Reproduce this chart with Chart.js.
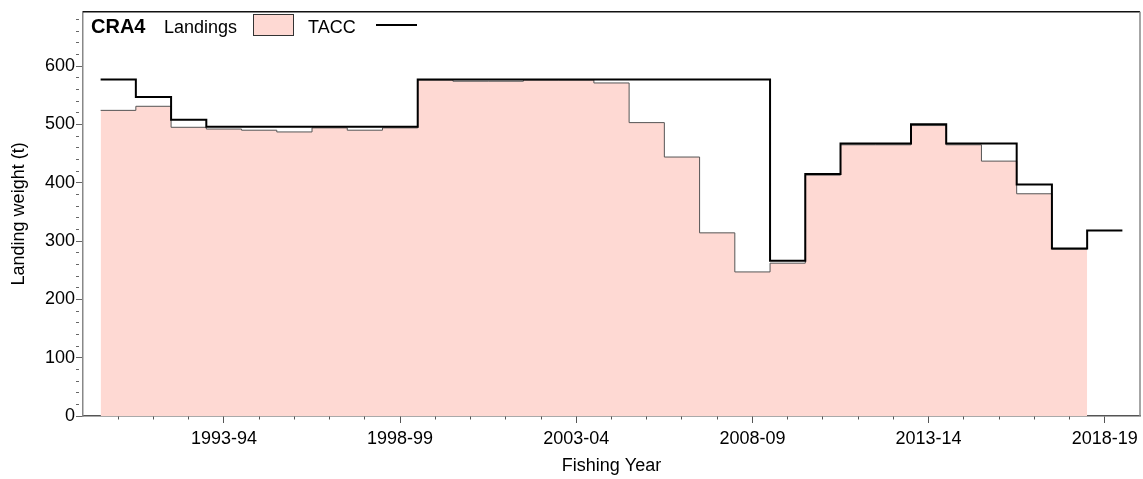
<!DOCTYPE html>
<html>
<head>
<meta charset="utf-8">
<script src="https://cdn.jsdelivr.net/npm/chart.js@4.4.1/dist/chart.umd.min.js"></script>
<style>
html, body { margin: 0; padding: 0; background: #fff; }
#wrap { width: 1143px; height: 479px; }
</style>
</head>
<body>
<div id="wrap"><canvas id="chart" width="1143" height="479"></canvas></div>
<script>
// fishing years, by the calendar year they start in (1990 = 1990-91)
var years = [1990, 1991, 1992, 1993, 1994, 1995, 1996, 1997, 1998, 1999,
             2000, 2001, 2002, 2003, 2004, 2005, 2006, 2007, 2008, 2009,
             2010, 2011, 2012, 2013, 2014, 2015, 2016, 2017, 2018];

var landings = [524, 531, 495, 492, 490, 487, 494, 490, 494, 576,
                574, 574, 576, 576, 571, 503, 444, 314, 247, 262,
                413, 465, 465, 498, 465, 437, 381, 286];

var tacc = [577, 547, 508, 496, 496, 496, 496, 496, 496, 577,
            577, 577, 577, 577, 577, 577, 577, 577, 577, 266,
            415, 467, 467, 500, 467, 467, 397, 287, 318];

var majorLabels = ["1993-94", "1998-99", "2003-04", "2008-09", "2013-14", "2018-19"];
var yLabels = [0, 100, 200, 300, 400, 500, 600];

var fontName = "'Liberation Sans', Arial, sans-serif";

function fishingYear(y) {
    return y + "-" + String((y + 1) % 100).padStart(2, "0");
}

// step points: one per year start, plus one closing the last year
function stepPoints(vals) {
    var pts = vals.map(function (v, i) { return {x: years[i], y: v}; });
    pts.push({x: years[vals.length - 1] + 1, y: vals[vals.length - 1]});
    return pts;
}

var frameAndLegend = {
    id: "frameAndLegend",
    afterDraw: function (chart) {
        var ctx = chart.ctx;
        var a = chart.chartArea;
        ctx.save();
        // top and right of the box
        ctx.lineWidth = 1.5;
        ctx.strokeStyle = "#111";
        ctx.beginPath();
        ctx.moveTo(a.left, a.top);
        ctx.lineTo(a.right, a.top);
        ctx.stroke();
        ctx.strokeStyle = "#888";
        ctx.beginPath();
        ctx.moveTo(a.right, a.top);
        ctx.lineTo(a.right, a.bottom);
        ctx.stroke();

        // legend
        ctx.fillStyle = "#000";
        ctx.textBaseline = "alphabetic";
        ctx.font = "bold 20px " + fontName;
        ctx.fillText("CRA4", 91, 33);
        ctx.font = "18px " + fontName;
        ctx.fillText("Landings", 164, 33);
        ctx.fillStyle = "#FED9D3";
        ctx.fillRect(253, 14, 40, 21);
        ctx.lineWidth = 1;
        ctx.strokeStyle = "#333";
        ctx.strokeRect(253.5, 14.5, 40, 21);
        ctx.fillStyle = "#000";
        ctx.fillText("TACC", 308, 33);
        ctx.lineWidth = 2;
        ctx.strokeStyle = "#000";
        ctx.beginPath();
        ctx.moveTo(376, 25);
        ctx.lineTo(417, 25);
        ctx.stroke();
        ctx.restore();
    }
};

new Chart(document.getElementById("chart"), {
    type: "line",
    data: {
        datasets: [
            {
                label: "TACC",
                data: stepPoints(tacc),
                stepped: true,
                borderColor: "#000",
                borderWidth: 2,
                borderJoinStyle: "miter",
                fill: false,
                pointRadius: 0
            },
            {
                label: "Landings",
                data: stepPoints(landings),
                stepped: true,
                borderColor: "#555",
                borderWidth: 1,
                borderJoinStyle: "miter",
                backgroundColor: "#FED9D3",
                fill: "start",
                pointRadius: 0
            }
        ]
    },
    options: {
        responsive: false,
        animation: false,
        devicePixelRatio: 1,
        layout: { padding: { top: 7, right: 3, left: 0, bottom: 0 } },
        plugins: {
            legend: { display: false },
            tooltip: { enabled: false }
        },
        scales: {
            x: {
                type: "linear",
                min: 1989.5,
                max: 2019.5,
                afterBuildTicks: function (scale) {
                    scale.ticks = years.map(function (y) { return {value: y + 0.5}; });
                },
                afterFit: function (scale) { scale.height = 63; },
                ticks: {
                    autoSkip: false,
                    maxRotation: 0,
                    padding: 5,
                    color: "#000",
                    font: { family: fontName, size: 18 },
                    callback: function (value) {
                        var lbl = fishingYear(Math.floor(value));
                        return majorLabels.indexOf(lbl) >= 0 ? lbl : "";
                    }
                },
                grid: {
                    drawOnChartArea: false,
                    drawTicks: true,
                    tickLength: 7,
                    tickColor: "#555",
                    tickBorderDash: function (c) {
                        if (!c.tick) return [];
                        var lbl = fishingYear(Math.floor(c.tick.value));
                        return majorLabels.indexOf(lbl) >= 0 ? [] : [3, 50];
                    }
                },
                border: { display: true, color: "#555", width: 1.5 },
                title: {
                    display: true,
                    text: "Fishing Year",
                    color: "#000",
                    font: { family: fontName, size: 18 },
                    padding: { top: 0, bottom: 2 }
                }
            },
            y: {
                min: 0,
                max: 693,
                afterBuildTicks: function (scale) {
                    var t = [];
                    for (var v = 0; v <= 680; v += 20) t.push({value: v});
                    scale.ticks = t;
                },
                afterFit: function (scale) { scale.width = 83; },
                ticks: {
                    autoSkip: false,
                    padding: 1,
                    color: "#000",
                    font: { family: fontName, size: 18 },
                    callback: function (value) {
                        return yLabels.indexOf(value) >= 0 ? String(value) : "";
                    }
                },
                grid: {
                    drawOnChartArea: false,
                    drawTicks: true,
                    tickLength: 7,
                    tickColor: "#666",
                    tickBorderDash: function (c) {
                        if (!c.tick) return [];
                        return yLabels.indexOf(c.tick.value) >= 0 ? [] : [3, 50];
                    }
                },
                border: { display: true, color: "#888", width: 1.5 },
                title: {
                    display: true,
                    text: "Landing weight (t)",
                    color: "#000",
                    font: { family: fontName, size: 18 },
                    padding: { top: 8, bottom: 0 }
                }
            }
        }
    },
    plugins: [frameAndLegend]
});
</script>
</body>
</html>
